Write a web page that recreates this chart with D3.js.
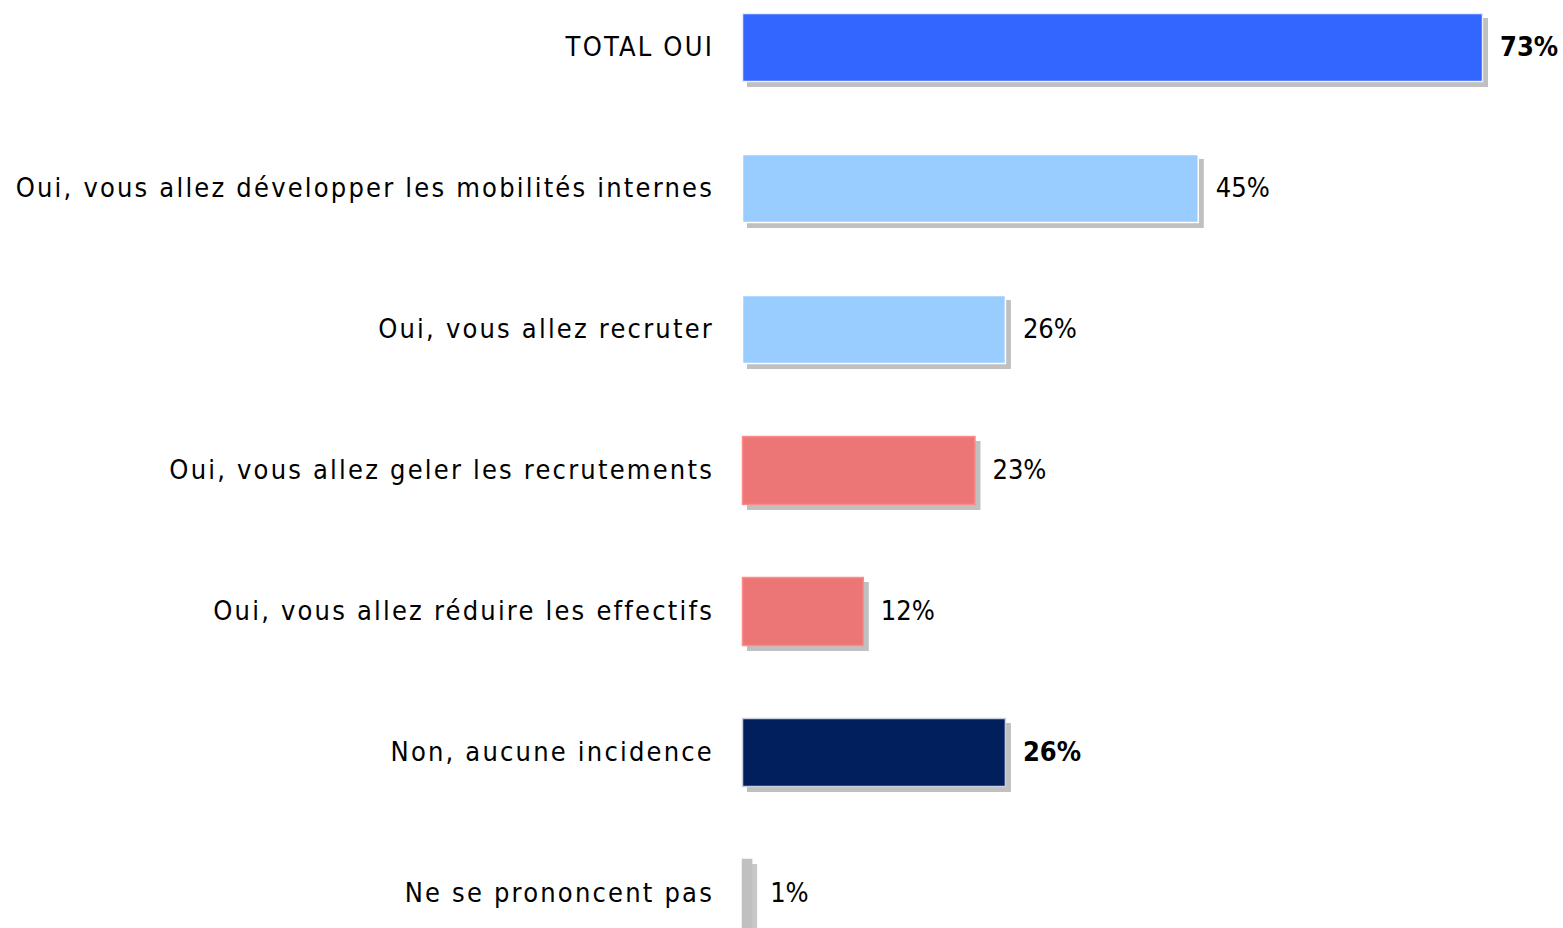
<!DOCTYPE html>
<html><head><meta charset="utf-8">
<script src="https://cdn.jsdelivr.net/npm/d3@7"></script>
<style>body{margin:0;background:#fff;overflow:hidden}svg{display:block}</style>
</head><body>
<script>
const categories = ["TOTAL OUI","Oui, vous allez développer les mobilités internes","Oui, vous allez recruter","Oui, vous allez geler les recrutements","Oui, vous allez réduire les effectifs","Non, aucune incidence","Ne se prononcent pas"];
const values = [73,45,26,23,12,26,1];
const valueLabels = ["73%","45%","26%","23%","12%","26%","1%"];
const boldRows = [true,false,false,false,false,true,false];
const barColors = ["#3366ff","#99ccff","#99ccff","#ec7676","#ec7676","#001f5c","#c0c0c0"];
const borderColors = ["#e8eeff","#ffffff","#ffffff","#ff8a8a","#ff8a8a","#c8d0e0","#c0c0c0"];

const W=1563,H=928;
const svg=d3.select("body").append("svg").attr("width",W).attr("height",H);
const x=d3.scaleLinear().domain([0,73]).range([742,1483]);
const y=d3.scaleBand().domain(categories).range([13,928]).paddingInner(72/141).paddingOuter(0);
const font="'DejaVu Sans Condensed', 'DejaVu Sans', sans-serif";
const rows=svg.selectAll("g.row").data(categories).join("g").attr("class","row");
// shadows
rows.append("rect").attr("x",x(0)+5).attr("y",d=>y(d)+5)
  .attr("width",(d,i)=>x(values[i])-x(0)).attr("height",y.bandwidth())
  .attr("fill",(d,i)=>i===6?"#c8c8c8":"#c0c0c0");
rows.append("rect").attr("x",x(0)+0.5).attr("y",d=>y(d)+0.5)
  .attr("width",(d,i)=>x(values[i])-x(0)-1).attr("height",y.bandwidth()-1)
  .attr("fill",(d,i)=>barColors[i]).attr("stroke",(d,i)=>borderColors[i]).attr("stroke-width",1.5);
rows.append("text").attr("x",714).attr("y",d=>y(d)+y.bandwidth()/2+8)
  .attr("text-anchor","end").attr("font-family",font).attr("font-size",27).attr("fill","#000")
  .attr("letter-spacing",2.2)
  .text(d=>d);
rows.append("text").attr("x",(d,i)=>x(values[i])+(i===6?18:17)).attr("y",d=>y(d)+y.bandwidth()/2+8)
  .attr("font-family",font).attr("font-size",27).attr("fill","#000")
  .attr("font-weight",(d,i)=>boldRows[i]?"bold":"normal")
  .text((d,i)=>valueLabels[i]);
</script>
</body></html>
